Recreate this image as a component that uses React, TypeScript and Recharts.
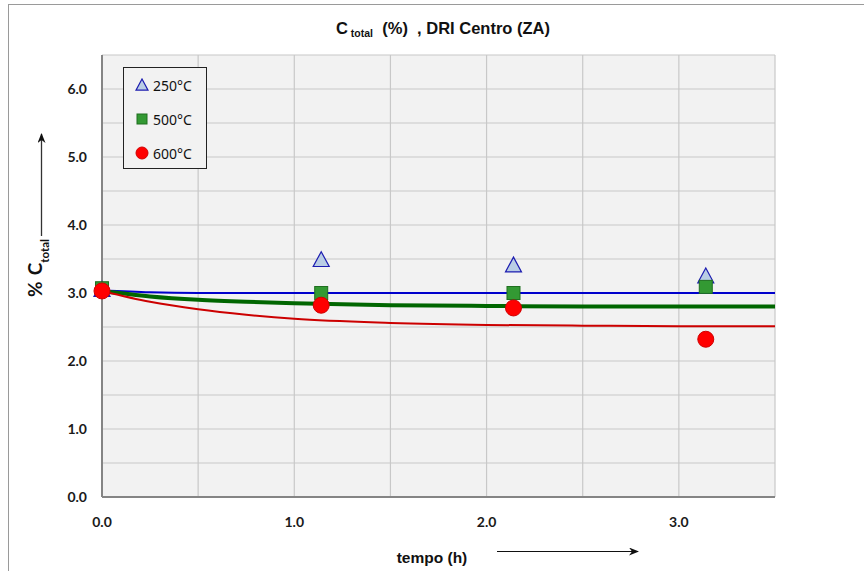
import React from 'react';
import { ComposedChart, Line, Scatter, XAxis, YAxis, CartesianGrid, Legend } from 'recharts';

// measured points (t in hours, % C total)
const tempoPts = [0, 1.14, 2.14, 3.14];
const c250 = [3.05, 3.49, 3.41, 3.25];
const c500 = [3.07, 3.0, 3.0, 3.09];
const c600 = [3.03, 2.82, 2.78, 2.32];

// fitted curves
const curveT = [0, 0.25, 0.5, 0.75, 1.0, 1.5, 2.0, 2.5, 3.0, 3.5];
const fit250 = [3.04, 3.01, 3.0, 3.0, 3.0, 3.0, 3.0, 3.0, 3.0, 3.0];
const fit500 = [3.03, 2.95, 2.9, 2.87, 2.85, 2.82, 2.81, 2.8, 2.8, 2.8];
const fit600 = [3.03, 2.87, 2.76, 2.68, 2.62, 2.56, 2.53, 2.52, 2.51, 2.51];

const xTicks = [0, 0.5, 1, 1.5, 2, 2.5, 3, 3.5];
const yTicks = [0, 0.5, 1, 1.5, 2, 2.5, 3, 3.5, 4, 4.5, 5, 5.5, 6, 6.5];
const seriesNames = ['250°C', '500°C', '600°C'];

const pts = (ys: number[]) => tempoPts.map((x, i) => ({ x, y: ys[i] }));
const curve = (ys: number[]) => curveT.map((x, i) => ({ x, y: ys[i] }));

const Tri = ({ cx, cy, s = 8 }: any) => (
  <polygon
    points={`${cx},${cy - s} ${cx - s},${cy + s * 0.85} ${cx + s},${cy + s * 0.85}`}
    fill="#b9cde5"
    stroke="#1c1cb0"
    strokeWidth={1.2}
  />
);
const Sq = ({ cx, cy, s = 6.5 }: any) => (
  <rect x={cx - s} y={cy - s} width={s * 2} height={s * 2} fill="#339933" stroke="#1f6f1f" strokeWidth={1} />
);
const Dot = ({ cx, cy, r = 8 }: any) => <circle cx={cx} cy={cy} r={r} fill="#ff0000" stroke="#d00000" strokeWidth={1} />;

const tickFmt = (v: number) => (Number.isInteger(v) ? v.toFixed(1) : '');
const tickStyle = { fontFamily: 'Lato, "Open Sans", sans-serif', fontWeight: 700, fontSize: 14, fill: '#1a1a1a' };
const narrow = '"Liberation Sans Narrow", "Liberation Sans", Arial, sans-serif';

const renderLegend = () => (
  <div
    style={{
      width: 82,
      height: 100,
      border: '1px solid #222',
      background: '#f2f2f2',
      fontFamily: '"Noto Sans", "Open Sans", sans-serif',
      fontSize: 14,
      color: '#111',
    }}
  >
    {seriesNames.map((n, i) => (
      <div key={n} style={{ display: 'flex', alignItems: 'center', height: 34, paddingLeft: 11 }}>
        <svg width={14} height={14} style={{ marginRight: 4 }}>
          {i === 0 && <Tri cx={7} cy={7} s={6} />}
          {i === 1 && <Sq cx={7} cy={7} s={5} />}
          {i === 2 && <Dot cx={7} cy={7} r={6} />}
        </svg>
        <span>{n}</span>
      </div>
    ))}
  </div>
);

export default function App() {
  return (
    <div style={{ position: 'absolute', left: 0, top: 0, width: 864, height: 571, background: '#fff', overflow: 'hidden' }}>
      <ComposedChart width={864} height={571} margin={{ top: 55, right: 89, bottom: 44, left: 62 }}>
        <CartesianGrid fill="#f2f2f2" stroke="#c8c8c8" strokeWidth={1.2} />
        <XAxis
          type="number"
          dataKey="x"
          domain={[0, 3.5]}
          ticks={xTicks}
          tickFormatter={tickFmt}
          tickLine={false}
          axisLine={{ stroke: '#858585', strokeWidth: 2 }}
          tick={tickStyle}
          tickMargin={14}
          height={30}
          interval={0}
        />
        <YAxis
          type="number"
          domain={[0, 6.5]}
          ticks={yTicks}
          tickFormatter={tickFmt}
          tickLine={false}
          axisLine={{ stroke: '#858585', strokeWidth: 2 }}
          tick={tickStyle}
          tickMargin={9}
          width={40}
          interval={0}
        />
        <Legend
          layout="horizontal"
          align="center"
          verticalAlign="middle"
          content={renderLegend}
          wrapperStyle={{ position: 'absolute', left: 123, top: 67, width: 84, height: 102 }}
        />
        <Line data={curve(fit250)} dataKey="y" type="monotone" stroke="#0000cc" strokeWidth={2} dot={false} isAnimationActive={false} legendType="none" />
        <Line data={curve(fit500)} dataKey="y" type="monotone" stroke="#006600" strokeWidth={4} dot={false} isAnimationActive={false} legendType="none" />
        <Line data={curve(fit600)} dataKey="y" type="monotone" stroke="#cc0000" strokeWidth={2} dot={false} isAnimationActive={false} legendType="none" />
        <Scatter data={pts(c250)} dataKey="y" shape={(p: any) => <Tri cx={p.cx} cy={p.cy} />} isAnimationActive={false} />
        <Scatter data={pts(c500)} dataKey="y" shape={(p: any) => <Sq cx={p.cx} cy={p.cy} />} isAnimationActive={false} />
        <Scatter data={pts(c600)} dataKey="y" shape={(p: any) => <Dot cx={p.cx} cy={p.cy} />} isAnimationActive={false} />
      </ComposedChart>
      <svg width={864} height={571} style={{ position: 'absolute', left: 0, top: 0, pointerEvents: 'none' }}>
        <defs>
          <marker id="ah" markerWidth={10} markerHeight={8} refX={9} refY={4} orient="auto" markerUnits="userSpaceOnUse">
            <path d="M0,0 L10,4 L0,8 L3,4 Z" fill="#111" />
          </marker>
        </defs>
        <rect x={8.5} y={4.5} width={900} height={600} fill="none" stroke="#9a9a9a" strokeWidth={1} />
        <text x={443} y={34} textAnchor="middle" style={{ fontFamily: narrow, fontWeight: 700, fontSize: 16.5, fill: '#111' }}>
          C<tspan fontSize={10.5} dy={3}> total</tspan>
          <tspan dy={-3} xmlSpace="preserve">  (%)  , DRI Centro (ZA)</tspan>
        </text>
        <text
          transform="translate(42,268) rotate(-90)"
          textAnchor="middle"
          style={{ fontFamily: 'Lato, "Open Sans", sans-serif', fontWeight: 700, fontSize: 19, fill: '#111' }}
        >
          %<tspan dx={6}>C</tspan>
          <tspan fontSize={11.5} dy={7}>total</tspan>
        </text>
        <line x1={41.5} y1={236} x2={41.5} y2={134} stroke="#333" strokeWidth={1.3} markerEnd="url(#ah)" />
        <text x={432} y={563} textAnchor="middle" style={{ fontFamily: narrow, fontWeight: 700, fontSize: 15.5, fill: '#111' }}>
          tempo (h)
        </text>
        <line x1={497} y1={551.5} x2={638} y2={551.5} stroke="#111" strokeWidth={1.2} markerEnd="url(#ah)" />
      </svg>
    </div>
  );
}
